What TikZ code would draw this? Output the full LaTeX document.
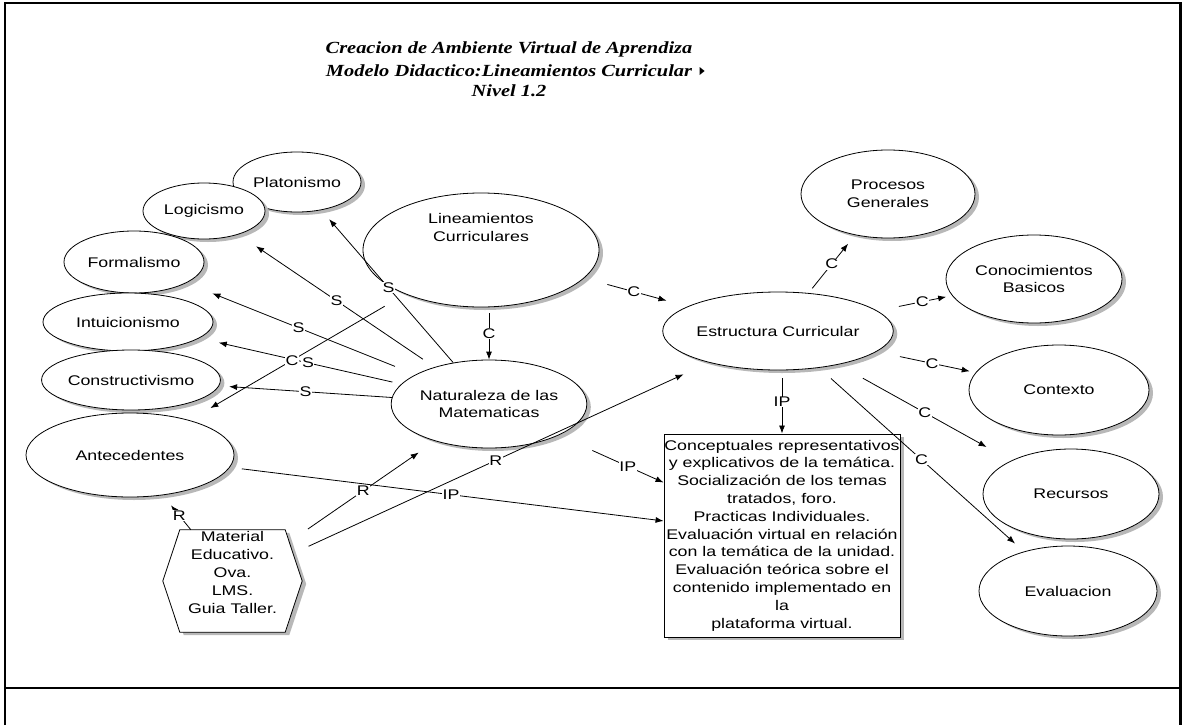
\documentclass[tikz,border=0pt]{standalone}
\usepackage{fontspec}
\setmainfont{Liberation Sans}
\newfontfamily\diagfont[FakeStretch=1.27]{Liberation Sans}
\newfontfamily\titlefont[FakeStretch=1.2]{Liberation Serif}
\usetikzlibrary{shapes.geometric,arrows.meta,shadows}

\begin{document}
\begin{tikzpicture}[x=1pt,y=-1pt,
  every node/.style={font=\diagfont\fontsize{14}{17.8}\selectfont},
  shade/.style={drop shadow={shadow xshift=4pt,shadow yshift=-3pt,fill=black!28,opacity=1}},
  ell/.style={ellipse,draw=black,line width=0.8pt,fill=white,inner sep=0pt,align=center,shade},
  conn/.style={line width=0.8pt,-{Latex[length=8pt,width=6pt]}},
  lbl/.style={fill=white,inner sep=0.6pt},
  frame/.style={line width=2.6pt},
  ttl/.style={font=\titlefont\bfseries\itshape\fontsize{17}{20}\selectfont}
]
\useasboundingbox (0,0) rectangle (1182,725);

% page frame
\draw[frame] (5,725) -- (5,3) -- (1180.5,3) -- (1180.5,725);
\draw[frame] (5,688) -- (1180.5,688);

% title
\node[ttl] (t1) at (509,49) {Creacion de Ambiente Virtual de Aprendiza};
\node[ttl] (t2) at (509,71) {Modelo Didactico:Lineamientos Curricular};
\node[ttl] (t3) at (509,91) {Nivel 1.2};
\fill ([xshift=4pt]t2.east) -- ++(0,-4) -- ++(5,4) -- ++(-5,4) -- cycle;

% left group
\node[ell,minimum width=128pt,minimum height=60pt] (plat) at (297,182) {Platonismo};
\node[ell,minimum width=122pt,minimum height=56pt] (logi) at (204,211) {Logicismo};
\node[ell,minimum width=140pt,minimum height=62pt] (form) at (134,262) {Formalismo};
\node[ell,minimum width=170pt,minimum height=58pt] (intu) at (128,322) {Intuicionismo};
\node[ell,minimum width=172pt,minimum height=60pt] (cons) at (131,380) {Constructivismo};
\node[ell,minimum width=208pt,minimum height=84pt] (ant) at (130,455) {Antecedentes};

% centre
\node[ell,minimum width=236pt,minimum height=114pt,
      label={[align=center,yshift=22.5pt]center:Lineamientos\\Curriculares}] (lin) at (481,250) {};
\node[ell,minimum width=184pt,minimum height=88pt] (nat) at (489,404) {Naturaleza de las\\Matematicas};
\node[ell,minimum width=220pt,minimum height=78pt] (est) at (778,331) {Estructura Curricular};

% right group
\node[ell,minimum width=174pt,minimum height=88pt] (proc) at (888,194) {Procesos\\Generales};
\node[ell,minimum width=176pt,minimum height=88pt] (cono) at (1034,279) {Conocimientos\\Basicos};
\node[ell,minimum width=180pt,minimum height=90pt] (cont) at (1059,390) {Contexto};
\node[ell,minimum width=176pt,minimum height=90pt] (rec) at (1071,494) {Recursos};
\node[ell,minimum width=178pt,minimum height=90pt] (eval) at (1068,591) {Evaluacion};

% activities box
\node[draw,line width=0.9pt,fill=white,minimum width=236pt,minimum height=203pt,
      inner sep=0pt,align=center,shade] (box) at (782,535.5)
  {Conceptuales representativos\\y explicativos de la temática.\\Socialización de los temas\\
   tratados, foro.\\Practicas Individuales.\\Evaluación virtual en relación\\
   con la temática de la unidad.\\Evaluación teórica sobre el\\contenido implementado en\\
   la\\plataforma virtual.};

% material hexagon
\node[minimum width=139pt,minimum height=102pt,inner sep=0pt] (mat) at (232.5,581) {};
\fill[black!28,transform canvas={shift={(4pt,-3pt)}}]
  ([xshift=17pt]mat.north west) -- ([xshift=-17pt]mat.north east) -- (mat.east)
  -- ([xshift=-17pt]mat.south east) -- ([xshift=17pt]mat.south west) -- (mat.west) -- cycle;
\draw[line width=0.8pt,fill=white]
  ([xshift=17pt]mat.north west) -- ([xshift=-17pt]mat.north east) -- (mat.east)
  -- ([xshift=-17pt]mat.south east) -- ([xshift=17pt]mat.south west) -- (mat.west) -- cycle;
\node[align=center] (mattext) at (232.5,572.5) {Material\\Educativo.\\Ova.\\LMS.\\Guia Taller.};

% connectors from Naturaleza de las Matematicas
\draw[conn,shorten >=12pt] (nat) -- node[lbl,pos=.49]{S} (plat);
\draw[conn,shorten <=14pt,shorten >=21pt] (nat) -- node[lbl,pos=.5]{S} (logi);
\draw[conn,shorten <=22pt,shorten >=28pt] (nat) -- node[lbl,pos=.51]{S} (form);
\draw[conn,shorten <=9pt,shorten >=20pt] (nat) -- node[lbl,pos=.462]{S} (intu);
\draw[conn,shorten >=10pt] (nat) -- node[lbl,pos=.5]{S} (cons);
\draw[conn,shorten <=24pt,shorten >=24pt] (lin) -- node[lbl,pos=.525]{C} (ant);

% connectors from Lineamientos Curriculares
\draw[conn,shorten <=6pt] (lin.south -| nat.north) -- node[lbl]{C} (nat.north);
\draw[conn,shorten <=24pt,shorten >=22pt] (lin) -- node[lbl,pos=.48]{C} (est);

% connectors from Estructura Curricular
\draw[conn,shorten <=6pt,shorten >=11pt] (est) -- node[lbl,pos=.5]{C} (proc);
\draw[conn,shorten <=22pt,shorten >=6pt] (est) -- node[lbl,pos=.6]{C} (cono);
\draw[conn,shorten <=24pt,shorten >=6pt] (est) -- node[lbl,pos=.56]{C} (cont);
\draw[conn,shorten <=28pt,shorten >=28pt] (est) -- node[lbl,pos=.5]{C} (rec);
\draw[conn,shorten <=16pt,shorten >=12pt] (est) -- node[lbl,pos=.5]{C} (eval);
\draw[conn,shorten <=8pt] (box.north |- est.south) -- node[lbl]{IP} (box.north);

% connectors into the activities box
\draw[conn,shorten <=37pt] (nat) -- node[lbl,pos=.66]{IP} (box);
\draw[conn,shorten <=12pt] (ant) -- node[lbl,pos=.51]{IP} (box);

% connectors from the material hexagon
\draw[conn,shorten <=7pt,shorten >=20pt] (mat) -- node[lbl,pos=.46]{R} (nat);
\draw[conn,shorten <=7pt,shorten >=28pt] (mat) -- node[lbl,pos=.476]{R} (est);
\draw[conn,shorten >=13pt] (mat) -- node[lbl,pos=.41]{R} (ant);
\end{tikzpicture}
\end{document}
